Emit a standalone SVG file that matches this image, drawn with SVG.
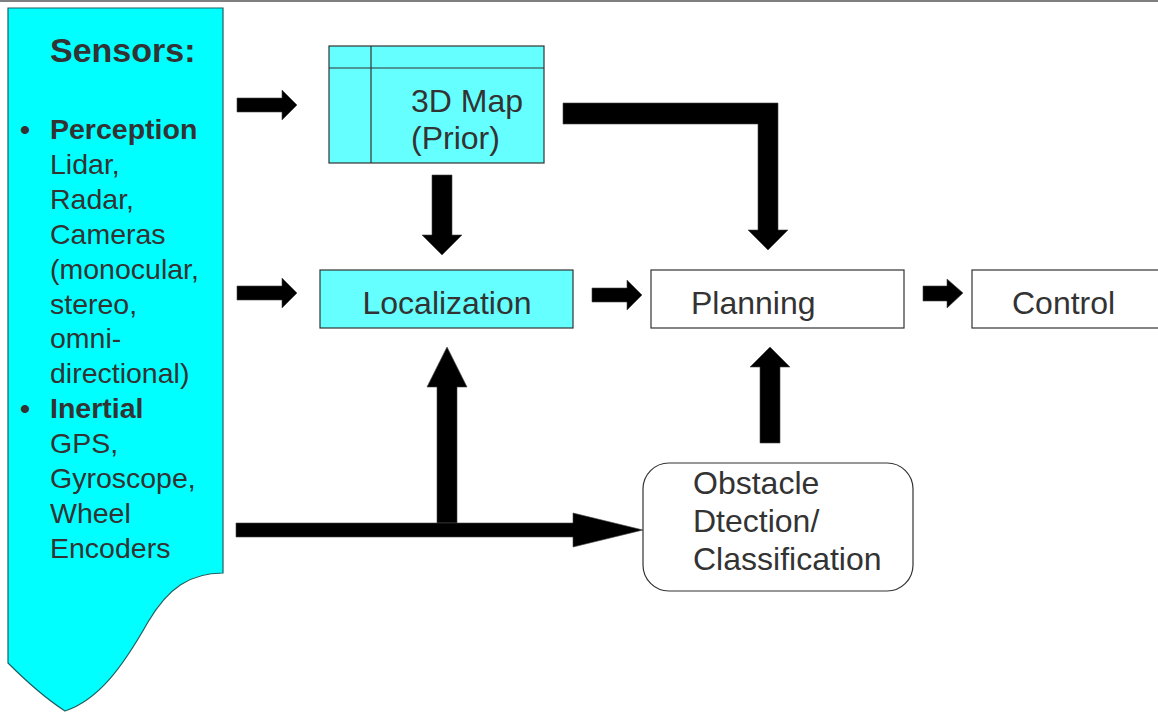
<svg xmlns="http://www.w3.org/2000/svg" width="1158" height="713" viewBox="0 0 1158 713">
<style>
  .t { font-family: "Liberation Sans", Arial, sans-serif; fill: #333333; }
  .big { font-size: 32px; }
  .lst { font-size: 28.5px; }
  .b { font-weight: bold; }
  .box { stroke: #333333; stroke-width: 1.2; }
  .cy { fill: #00FFFF; fill-opacity: 0.6; }
  .arr { fill: #000000; stroke: #444444; stroke-width: 0.6; }
</style>
<rect x="0" y="0" width="1158" height="713" fill="#ffffff"/>
<line x1="0" y1="1" x2="1158" y2="1" stroke="#555555" stroke-width="1.5"/>

<g id="sensors">
  <path d="M8,8 L223,8 L223,573 C190,573 168,588 148,622 C122,668 98,700 65,711 C45,698 25,680 8,663 Z" fill="#00FFFF" stroke="#1f5f5f" stroke-width="1.2"/>
  <text class="t b" x="50" y="62" font-size="34">Sensors:</text>
  <text class="t lst b" x="20" y="139">•</text>
  <text class="t lst b" x="50" y="139">Perception</text>
  <text class="t lst" x="50" y="174">Lidar,</text>
  <text class="t lst" x="50" y="209">Radar,</text>
  <text class="t lst" x="50" y="244">Cameras</text>
  <text class="t lst" x="50" y="279">(monocular,</text>
  <text class="t lst" x="50" y="314">stereo,</text>
  <text class="t lst" x="50" y="348">omni-</text>
  <text class="t lst" x="50" y="383">directional)</text>
  <text class="t lst b" x="20" y="418">•</text>
  <text class="t lst b" x="50" y="418">Inertial</text>
  <text class="t lst" x="50" y="453">GPS,</text>
  <text class="t lst" x="50" y="488">Gyroscope,</text>
  <text class="t lst" x="50" y="523">Wheel</text>
  <text class="t lst" x="50" y="558">Encoders</text>
</g>

<g id="map3d">
  <rect class="box" x="329" y="46" width="215" height="117" fill="#66FFFF"/>
  <line class="box" x1="371" y1="46" x2="371" y2="163"/>
  <line class="box" x1="329" y1="68" x2="544" y2="68"/>
  <text class="t big" x="411" y="112">3D Map</text>
  <text class="t big" x="411" y="149">(Prior)</text>
</g>

<g id="localization">
  <rect class="box" x="320" y="270" width="253" height="58" fill="#66FFFF"/>
  <text class="t big" x="447" y="314" text-anchor="middle">Localization</text>
</g>

<g id="planning">
  <rect class="box" x="651" y="270" width="253" height="58" fill="#ffffff"/>
  <text class="t big" x="691" y="314">Planning</text>
</g>

<g id="control">
  <rect class="box" x="972" y="270" width="200" height="58" fill="#ffffff"/>
  <text class="t big" x="1012" y="314">Control</text>
</g>

<g id="obstacle">
  <rect class="box" x="643" y="463" width="270" height="128" rx="26" ry="26" fill="#ffffff"/>
  <text class="t big" x="693" y="494">Obstacle</text>
  <text class="t big" x="693" y="532">Dtection/</text>
  <text class="t big" x="693" y="570">Classification</text>
</g>

<g id="connectors">
  <polygon class="arr" points="237,98 282,98 282,90 297,105 282,120 282,112 237,112"/>
  <polygon class="arr" points="237,286 282,286 282,278 297,293 282,308 282,300 237,300"/>
  <polygon class="arr" points="592,288 627,288 627,280 642,295 627,310 627,302 592,302"/>
  <polygon class="arr" points="923,286 947,286 947,279 963,293 947,308 947,301 923,301"/>
  <polygon class="arr" points="432,175 452,175 452,235 462,235 442,255 422,235 432,235"/>
  <polygon class="arr" points="563,103 778,103 778,230 788,230 768,250 748,230 758,230 758,124 563,124"/>
  <polygon class="arr" points="760,443 760,367 750,367 770,347 790,367 780,367 780,443"/>
  <polygon class="arr" points="437,523 437,387 427,387 447,347 467,387 457,387 457,523"/>
  <polygon class="arr" points="236,523 573,523 573,513 643,530 573,547 573,537 236,537"/>
</g>
</svg>
